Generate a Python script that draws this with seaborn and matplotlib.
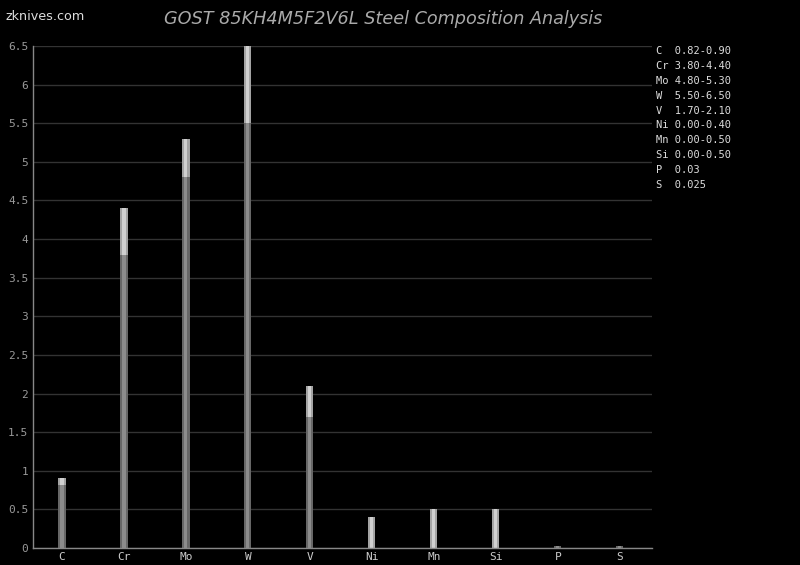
import matplotlib
matplotlib.use("Agg")
import matplotlib.pyplot as plt
import seaborn as sns
import pandas as pd

elements = ["C", "Cr", "Mo", "W", "V", "Ni", "Mn", "Si", "P", "S"]
min_vals = [0.82, 3.80, 4.80, 5.50, 1.70, 0.00, 0.00, 0.00, 0.03, 0.025]
max_vals = [0.90, 4.40, 5.30, 6.50, 2.10, 0.40, 0.50, 0.50, 0.03, 0.025]
legend_lines = ["C  0.82-0.90", "Cr 3.80-4.40", "Mo 4.80-5.30", "W  5.50-6.50",
                "V  1.70-2.10", "Ni 0.00-0.40", "Mn 0.00-0.50", "Si 0.00-0.50",
                "P  0.03", "S  0.025"]
y_ticks = [0, 0.5, 1, 1.5, 2, 2.5, 3, 3.5, 4, 4.5, 5, 5.5, 6, 6.5]

df = pd.DataFrame({"element": elements, "min": min_vals, "max": max_vals})

sns.set_theme(style="dark")
fig = plt.figure(figsize=(8, 5.65), dpi=100, facecolor="black")
ax = fig.add_axes([32.5/800, 1-548/565, (652-32.5)/800, (548-46)/565])
ax.set_facecolor("black")

# upper (range) part: lighter, drawn full height; lower (min) part drawn over it
sns.barplot(data=df, x="element", y="max", color="#a4a4a4", width=0.115,
            saturation=1, linewidth=0, ax=ax)
sns.barplot(data=df, x="element", y="max", color="#d0d0d0", width=0.05,
            saturation=1, linewidth=0, ax=ax)
sns.barplot(data=df, x="element", y="min", color="#676767", width=0.115,
            saturation=1, linewidth=0, ax=ax)
sns.barplot(data=df, x="element", y="min", color="#8c8c8c", width=0.05,
            saturation=1, linewidth=0, ax=ax)

ax.set_xlim(-0.476, 9.52)
ax.set_ylim(0, 6.5)
ax.set_yticks(y_ticks)
ax.set_yticklabels([f"{t:g}" for t in y_ticks])
ax.yaxis.grid(True, color="#333333", linewidth=1)
ax.xaxis.grid(False)
ax.set_axisbelow(True)
ax.set_xlabel("")
ax.set_ylabel("")
for s in ["top", "right"]:
    ax.spines[s].set_visible(False)
for s in ["left", "bottom"]:
    ax.spines[s].set_visible(True)
    ax.spines[s].set_color("#888888")
    ax.spines[s].set_linewidth(1)
ax.tick_params(axis="both", colors="#aaaaaa", labelsize=8, length=0, pad=3)
for lab in ax.get_xticklabels() + ax.get_yticklabels():
    lab.set_family("DejaVu Sans Mono")
    lab.set_color("#cccccc")
for lab in ax.get_yticklabels():
    lab.set_color("#999999")

fig.text(383/800, 1-19/565, "GOST 85KH4M5F2V6L Steel Composition Analysis",
         ha="center", va="center", fontsize=12.7, style="italic", color="#aaaaaa",
         family="DejaVu Sans")
fig.text(5/800, 1-17/565, "zknives.com", ha="left", va="center", fontsize=9.2,
         color="#dddddd", family="DejaVu Sans")

for i, line in enumerate(legend_lines):
    fig.text(656/800, 1-(51 + i*14.9)/565, line, ha="left", va="center",
             fontsize=7.5, color="#dddddd", family="DejaVu Sans Mono")

fig.savefig("out.png", dpi=100, facecolor="black")
